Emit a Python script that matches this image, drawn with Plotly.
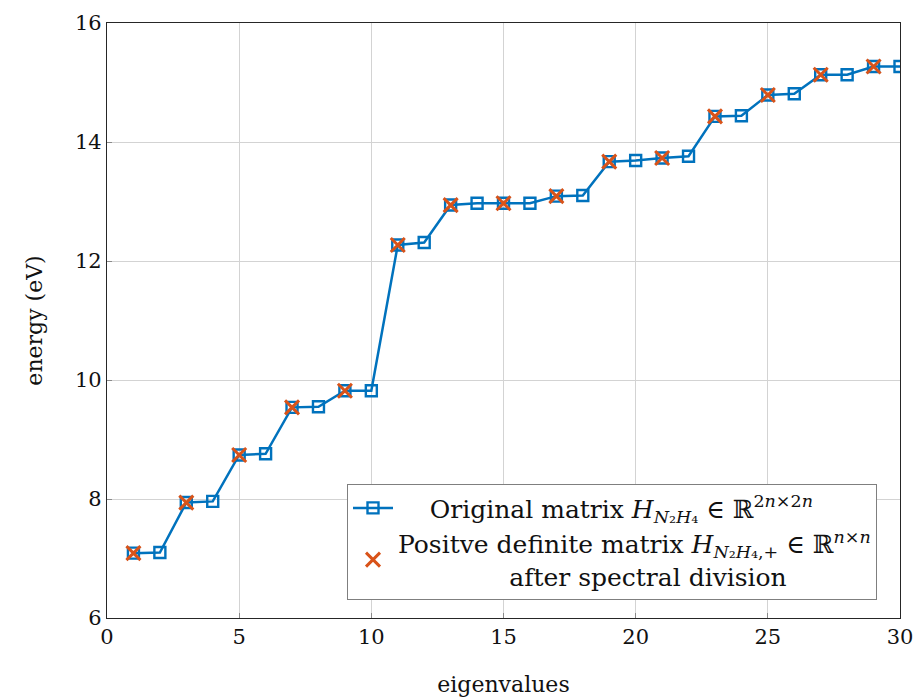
import plotly.graph_objects as go

# eigenvalue index and energies (eV)
idx = list(range(1, 31))
energy_full = [7.09, 7.10, 7.94, 7.96, 8.74, 8.76, 9.54, 9.55, 9.82, 9.82,
               12.27, 12.31, 12.94, 12.97, 12.97, 12.97, 13.09, 13.10, 13.67, 13.69,
               13.73, 13.76, 14.43, 14.44, 14.79, 14.81, 15.13, 15.13, 15.27, 15.27]
idx_pd = idx[0::2]
energy_pd = energy_full[0::2]

x_ticks = [0, 5, 10, 15, 20, 25, 30]
y_ticks = [6, 8, 10, 12, 14, 16]

FONT = "DejaVu Serif"
BLUE = "#0072BD"
ORANGE = "#D95319"

fig = go.Figure()
fig.add_trace(go.Scatter(
    x=idx, y=energy_full, mode="lines+markers",
    name="    Original matrix <i>H</i><sub><i>N</i>₂<i>H</i>₄</sub> ∈ ℝ<sup>2<i>n</i>×2<i>n</i></sup>",
    line=dict(color=BLUE, width=2.5),
    marker=dict(symbol="square-open", size=11, color=BLUE, line=dict(width=2.4, color=BLUE)),
))
fig.add_trace(go.Scatter(
    x=idx_pd, y=energy_pd, mode="markers",
    name="Positve definite matrix <i>H</i><sub><i>N</i>₂<i>H</i>₄,+</sub> ∈ ℝ<sup><i>n</i>×<i>n</i></sup>"
         "<br>              after spectral division",
    marker=dict(symbol="x-thin-open", size=14, color=ORANGE, line=dict(width=3, color=ORANGE)),
))

axis_common = dict(
    showgrid=True, gridcolor="#d3d3d3", gridwidth=1,
    showline=True, linecolor="#262626", linewidth=1.2, mirror=True,
    ticks="inside", ticklen=5, tickcolor="#8a8a8a",
    tickfont=dict(family=FONT, size=21, color="#111"),
    zeroline=False, automargin=False,
)

fig.update_layout(
    width=917, height=699,
    margin=dict(l=107, r=17, t=23, b=81),
    paper_bgcolor="white", plot_bgcolor="white",
    font=dict(family=FONT, size=20, color="#111"),
    xaxis=dict(range=[0, 30], tickvals=x_ticks,
               title=dict(text="eigenvalues", font=dict(family=FONT, size=22), standoff=28),
               **axis_common),
    yaxis=dict(range=[6, 16], tickvals=y_ticks,
               title=dict(text="energy (eV)", font=dict(family=FONT, size=22), standoff=26),
               **axis_common),
    legend=dict(x=0.971, y=0.03, xanchor="right", yanchor="bottom",
                bgcolor="white", bordercolor="#7f7f7f", borderwidth=1,
                font=dict(family=FONT, size=25, color="#111"),
                tracegroupgap=10, itemwidth=40),
    showlegend=True,
)

fig.write_html("out.html")
